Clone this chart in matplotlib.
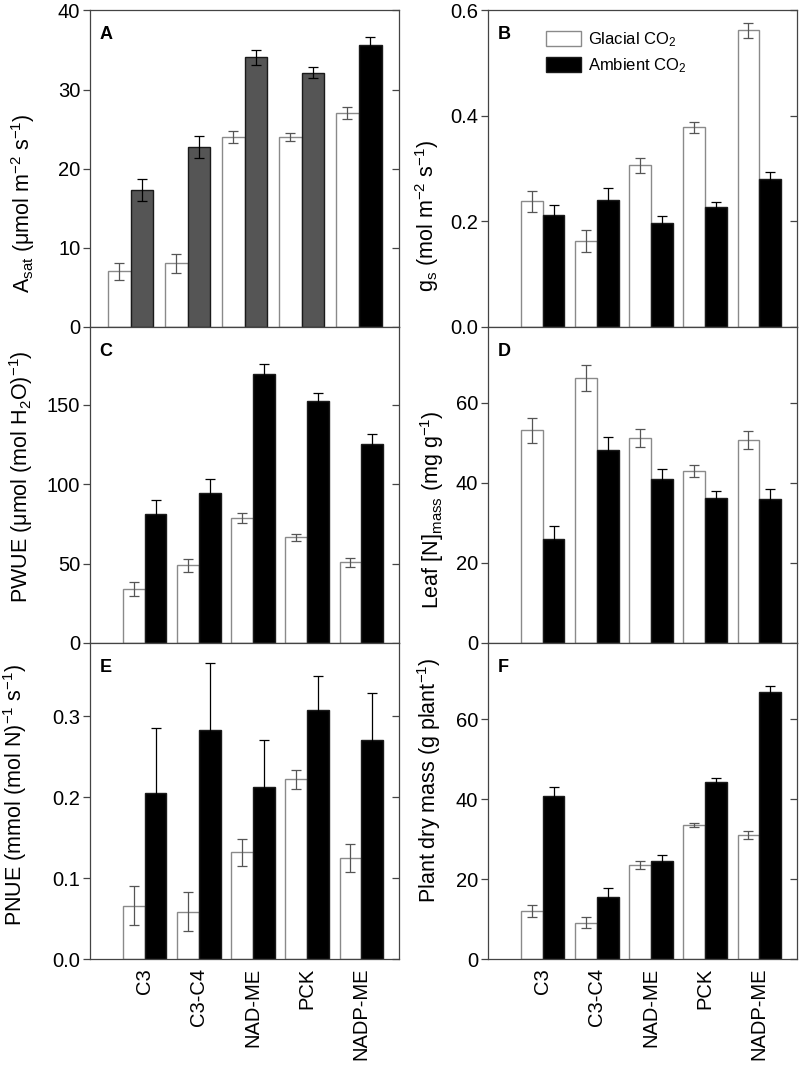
import matplotlib
matplotlib.use("Agg")
import matplotlib.pyplot as plt
import numpy as np

plt.rcParams['font.family'] = ['Liberation Sans', 'DejaVu Sans']
plt.rcParams['mathtext.fontset'] = 'custom'
plt.rcParams['mathtext.rm'] = 'Liberation Sans'
plt.rcParams['mathtext.it'] = 'Liberation Sans:italic'

# %% Data
groups = ['C3', 'C3-C4', 'NAD-ME', 'PCK', 'NADP-ME']

asat_glacial = [7.0, 8.0, 24.0, 24.0, 27.0]
asat_glacial_err = [1.05, 1.2, 0.75, 0.5, 0.75]
asat_ambient = [17.3, 22.7, 34.1, 32.1, 35.6]
asat_ambient_err = [1.35, 1.4, 0.95, 0.7, 1.0]

gs_glacial = [0.238, 0.162, 0.306, 0.378, 0.562]
gs_glacial_err = [0.02, 0.021, 0.015, 0.01, 0.014]
gs_ambient = [0.211, 0.240, 0.197, 0.228, 0.281]
gs_ambient_err = [0.020, 0.023, 0.013, 0.0095, 0.013]

pwue_glacial = [33.9, 49.0, 78.6, 66.4, 50.9]
pwue_glacial_err = [4.2, 4.1, 3.1, 2.2, 2.8]
pwue_ambient = [80.9, 94.1, 169.1, 152.5, 125.3]
pwue_ambient_err = [8.8, 8.8, 6.3, 4.6, 6.3]

nmass_glacial = [53.1, 66.2, 51.2, 42.9, 50.7]
nmass_glacial_err = [3.1, 3.2, 2.25, 1.55, 2.2]
nmass_ambient = [25.9, 48.1, 40.9, 36.3, 36.0]
nmass_ambient_err = [3.25, 3.4, 2.5, 1.75, 2.4]

pnue_glacial = [0.066, 0.059, 0.132, 0.222, 0.125]
pnue_glacial_err = [0.024, 0.024, 0.017, 0.012, 0.017]
pnue_ambient = [0.205, 0.283, 0.213, 0.308, 0.270]
pnue_ambient_err = [0.081, 0.082, 0.058, 0.041, 0.058]

mass_glacial = [12.2, 9.2, 23.7, 33.6, 31.2]
mass_glacial_err = [1.5, 1.4, 1.0, 0.6, 1.0]
mass_ambient = [40.9, 15.6, 24.5, 44.3, 66.9]
mass_ambient_err = [2.1, 2.2, 1.5, 1.1, 1.5]

# ambient bar colours in panel A (NADP-ME stays black)
asat_ambient_colors = ['#555555', '#555555', '#555555', '#555555', 'black']

# %% Panel specs
panels = [
    # letter, glacial, gerr, ambient, aerr, ylim, yticks, ticklabels, ylabel, label (x, y)
    ('A', asat_glacial, asat_glacial_err, asat_ambient, asat_ambient_err,
     (0, 40), [0, 10, 20, 30, 40], ['0', '10', '20', '30', '40'],
     'A$_{\\rm sat}$ (\u03bcmol m$^{-2}$ s$^{-1}$)', (-0.172, 0.392)),
    ('B', gs_glacial, gs_glacial_err, gs_ambient, gs_ambient_err,
     (0, 0.6), [0, 0.2, 0.4, 0.6], ['0.0', '0.2', '0.4', '0.6'],
     'g$_{\\rm s}$ (mol m$^{-2}$ s$^{-1}$)', (-0.152, 0.35)),
    ('C', pwue_glacial, pwue_glacial_err, pwue_ambient, pwue_ambient_err,
     (0, 199), [0, 50, 100, 150], ['0', '50', '100', '150'],
     'PWUE (\u03bcmol (mol H$_2$O)$^{-1}$)', (-0.178, 0.525)),
    ('D', nmass_glacial, nmass_glacial_err, nmass_ambient, nmass_ambient_err,
     (0, 79), [0, 20, 40, 60], ['0', '20', '40', '60'],
     'Leaf [N]$_{\\rm mass}$ (mg g$^{-1}$)', (-0.135, 0.42)),
    ('E', pnue_glacial, pnue_glacial_err, pnue_ambient, pnue_ambient_err,
     (0, 0.39), [0, 0.1, 0.2, 0.3], ['0.0', '0.1', '0.2', '0.3'],
     'PNUE (mmol (mol N)$^{-1}$ s$^{-1}$)', (-0.197, 0.519)),
    ('F', mass_glacial, mass_glacial_err, mass_ambient, mass_ambient_err,
     (0, 79), [0, 20, 40, 60], ['0', '20', '40', '60'],
     'Plant dry mass (g plant$^{-1}$)', (-0.145, 0.566)),
]

fig = plt.figure(figsize=(8, 10.67), dpi=100)

col_left = [0.1125, 0.61]
col_width = 0.3865
row_bottom = [0.6938, 0.3974, 0.1008]
row_height = 0.2964

x = np.arange(len(groups))
bw = 0.4
spine_col = '#444444'
fs_tick = 14.5
fs_label = 15.5

for i, (letter, gl, gle, am, ame, ylim, yt, ytl, ylab, lpos) in enumerate(panels):
    row, col = divmod(i, 2)
    ax = fig.add_axes([col_left[col], row_bottom[row], col_width, row_height])

    am_colors = asat_ambient_colors if letter == 'A' else 'black'
    ax.bar(x - bw / 2, gl, bw, color='white', edgecolor='#8a8a8a', linewidth=1.0,
           label='Glacial CO$_2$', zorder=2)
    ax.bar(x + bw / 2, am, bw, color=am_colors, edgecolor='#1a1a1a', linewidth=1.0,
           label='Ambient CO$_2$', zorder=2)
    ax.errorbar(x - bw / 2, gl, yerr=gle, fmt='none', ecolor='#555555',
                elinewidth=0.9, capsize=3.5, capthick=0.9, zorder=3)
    ax.errorbar(x + bw / 2, am, yerr=ame, fmt='none', ecolor='black',
                elinewidth=0.9, capsize=3.5, capthick=0.9, zorder=3)

    if letter == 'A':
        ax.set_xlim(-0.71, 4.71)
    else:
        ax.set_xlim(-1.01, 4.7)
    ax.set_ylim(*ylim)
    ax.set_yticks(yt)
    ax.set_yticklabels(ytl, fontsize=fs_tick)
    ax.tick_params(axis='y', direction='out', length=5, width=0.9, color=spine_col, pad=2)
    sec = ax.secondary_yaxis('right')
    sec.set_yticks(yt)
    sec.tick_params(axis='y', direction='in', length=5, width=0.9, color=spine_col,
                    labelright=False)
    sec.spines['right'].set_visible(False)

    ax.set_xticks(x)
    ax.tick_params(axis='x', length=0, pad=6)
    if row == 2:
        ax.set_xticklabels(groups, rotation=90, fontsize=fs_tick)
    else:
        ax.set_xticklabels([])

    for s in ax.spines.values():
        s.set_color(spine_col)
        s.set_linewidth(0.9)

    ax.set_ylabel(ylab, fontsize=fs_label)
    ax.yaxis.set_label_coords(*lpos)
    ax.text(0.03, 0.95, letter, transform=ax.transAxes, fontsize=13,
            fontweight='bold', va='top', ha='left')

    if letter == 'B':
        ax.legend(loc='upper left', bbox_to_anchor=(0.14, 0.985), frameon=False,
                  fontsize=12, handlelength=2.1, handleheight=1.0,
                  handletextpad=0.4, labelspacing=0.45)

fig.savefig('out.png', dpi=100)
